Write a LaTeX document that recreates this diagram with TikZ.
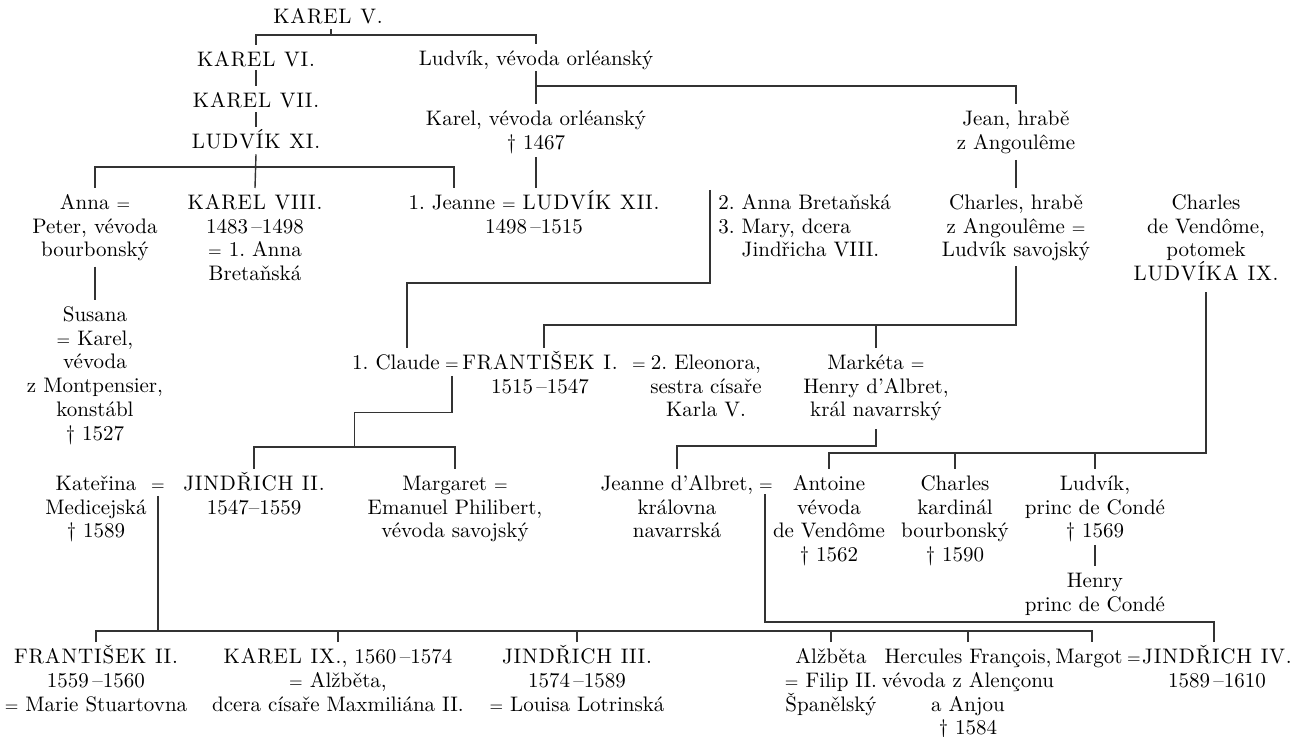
\documentclass[tikz,border=0pt]{standalone}
\usepackage{fontspec}
\usetikzlibrary{calc}
\def\vladkrok#1{\ifx#1\relax\else#1\kern0.04em\expandafter\vladkrok\fi}
\newcommand{\vlad}[1]{\vladkrok#1\relax\unkern}
\newcommand{\rv}{{\fontsize{8.5pt}{8.5pt}\selectfont=}}
\begin{document}
\begin{tikzpicture}[x=0.5pt, y=-0.5pt,
		osoba/.style={inner sep=0pt, text width=140pt, align=center, anchor=north, font=\fontsize{10.5pt}{11.9pt}\selectfont\addfontfeatures{FakeBold=0.6}\frenchspacing, execute at begin node={\rule{0pt}{10.5pt}}},
		vetev/.style={draw=black!80, line width=0.7pt}]
	\useasboundingbox (0,0) rectangle (1296,737);

	\node[osoba](karel5) at (328,2){\vlad{KAREL~V.}};
	\node[osoba](karel6) at (256,45){\vlad{KAREL~VI.}};
	\node[osoba](ludvikO) at (536,44){Ludvík, vévoda orléanský};
	\node[osoba](karel7) at (256,86){\vlad{KAREL~VII.}};
	\node[osoba](ludvik11) at (256,127){\vlad{LUDVÍK~XI.}};
	\node[osoba](karelO) at (536,104){Karel, vévoda orléanský\\† 1467};
	\node[osoba](jean) at (1016,104){Jean, hrabě\\z Angoulême};

	\node[osoba](anna) at (95,188){Anna \rv\\Peter, vévoda\\bourbonský};
	\node[osoba](karel8) at (255,188){\vlad{KAREL~VIII.}\\1483\,–1498\\\rv{} 1. Anna\\Bretaňská};
	\node[osoba](ludvik12) at (534,188){1. Jeanne \rv{} \vlad{LUDVÍK~XII.}\\1498\,–1515};
	\node[osoba, align=left, anchor=north west](anna2) at (718,188){2. Anna Bretaňská\\3. Mary, dcera\\\hphantom{3. }Jindřicha VIII.};
	\node[osoba](charles) at (1016,188){Charles, hrabě\\z Angoulême \rv\\Ludvík savojský};
	\node[osoba](vendome) at (1206,188){Charles\\de Vendôme,\\potomek\\\vlad{LUDVÍKA~IX.}};
	\node[osoba](susana) at (95,300){Susana\\\rv{} Karel,\\vévoda\\z Montpensier,\\konstábl\\† 1527};

	\node[osoba](claude) at (396,348){1. Claude};
	\node[osoba](eqCF) at (452,348){\rv};
	\node[osoba](frantisek) at (540,348){\vlad{FRANTIŠEK~I.}\\1515\,–1547};
	\node[osoba](eqFE) at (639,348){\rv};
	\node[osoba](eleonora) at (706,348){2. Eleonora,\\sestra císaře\\Karla V.};
	\node[osoba](marketa) at (876,348){Markéta \rv\\Henry d’Albret,\\král navarrský};

	\node[osoba](katerina) at (96,469){Kateřina\\Medicejská\\† 1589};
	\node[osoba](eqKJ) at (158,469){\rv};
	\node[osoba](jindrich2) at (254,469){\vlad{JINDŘICH~II.}\\1547–1559};
	\node[osoba](margaret) at (455,469){Margaret \rv\\Emanuel Philibert,\\vévoda savojský};
	\node[osoba](jeanneA) at (677,469){Jeanne d’Albret,\\královna\\navarrská};
	\node[osoba](eqJA) at (766,469){\rv};
	\node[osoba](antoine) at (829,469){Antoine\\vévoda\\de Vendôme\\† 1562};
	\node[osoba](charlesK) at (955,469){Charles\\kardinál\\bourbonský\\† 1590};
	\node[osoba](ludvikC) at (1095,469){Ludvík,\\princ de Condé\\† 1569};
	\node[osoba](henry) at (1095,566){Henry\\princ de Condé};

	\node[osoba](frantisek2) at (96,642){\vlad{FRANTIŠEK~II.}\\1559\,–1560\\\rv{} Marie Stuartovna};
	\node[osoba](karel9) at (338,642){\vlad{KAREL~IX.}, 1560\,–1574\\\rv{} Alžběta,\\dcera císaře Maxmiliána II.};
	\node[osoba](jindrich3) at (577,642){\vlad{JINDŘICH~III.}\\1574\,–1589\\\rv{} Louisa Lotrinská};
	\node[osoba](alzbeta) at (831,642){Alžběta\\\rv{} Filip II.\\Španělský};
	\node[osoba](hercules) at (968,642){Hercules François,\\vévoda z Alençonu\\a Anjou\\† 1584};
	\node[osoba](margot) at (1089,642){Margot};
	\node[osoba](eqMJ) at (1134,642){\rv};
	\node[osoba](jindrich4) at (1217,642){\vlad{JINDŘICH~IV.}\\1589\,–1610};

	\coordinate (pruh) at ($(frantisek2.north)+(0,-11)$);

	\draw[vetev] (karel5.south) ++(3,5) -- ++(0,7);
	\draw[vetev] (karel6.north) -- ++(0,-10) -| (ludvikO.north);
	\draw[vetev] (karel6.south) ++(0,3) -- (karel7.north);
	\draw[vetev] (karel7.south) ++(0,4) -- (ludvik11.north);
	\draw[vetev] (ludvik11.south) ++(0,5) -- (karel8.north);
	\draw[vetev] (anna.north) -- ++(0,-21) -| ($(ludvik12.north)+(-80,0)$);
	\draw[vetev] (anna.south) ++(0,5) -- (susana.north);
	\draw[vetev] (ludvikO.south) ++(0,1) -- (karelO.north);
	\draw[vetev] (karelO.north) ++(0,-18) -| (jean.north);
	\draw[vetev] (karelO.south) ++(0,3) -- ($(ludvik12.north)+(2,0)$);
	\draw[vetev] (jean.south) ++(0,6) -- (charles.north);
	\draw[vetev] ($(anna2.north west)+(-8,2)$) -- ++(0,93) -| ($(claude.north)+(11,0)$);
	\draw[vetev] ($(frantisek.north)+(4,0)$) -- ++(0,-23) -| ($(charles.south)+(0,4)$);
	\draw[vetev] (marketa.north) -- ++(0,-23);
	\draw[vetev] (eqCF.south) ++(0,6) -- ++(0,37) -| ($(jindrich2.north)!.5!(margaret.north)+(0,-22)$);
	\draw[vetev] (jindrich2.north) -- ++(0,-22) -| (margaret.north);
	\draw[vetev] (antoine.north) -- ++(0,-16) -| ($(vendome.south)+(0,10)$);
	\foreach \n in {charlesK,ludvikC}
		\draw[vetev] (\n.north) -- ++(0,-16);
	\draw[vetev] (jeanneA.north) -- ++(0,-23) -| ($(marketa.south)+(0,7)$);
	\draw[vetev] (ludvikC.south) ++(0,2) -- (henry.north);
	\draw[vetev] (eqKJ.south) ++(0,5) -- (eqKJ.south |- pruh);
	\draw[vetev] (frantisek2.north) -- (pruh) -| ($(margot.north)+(3,0)$);
	\foreach \n in {karel9,jindrich3,alzbeta,hercules}
		\draw[vetev] (\n.north) -- (\n.north |- pruh);
	\draw[vetev] ($(jindrich4.north)+(-3,0)$) -- ++(0,-20) -| ($(eqJA.south)+(-1,3)$);
\end{tikzpicture}
\end{document}
